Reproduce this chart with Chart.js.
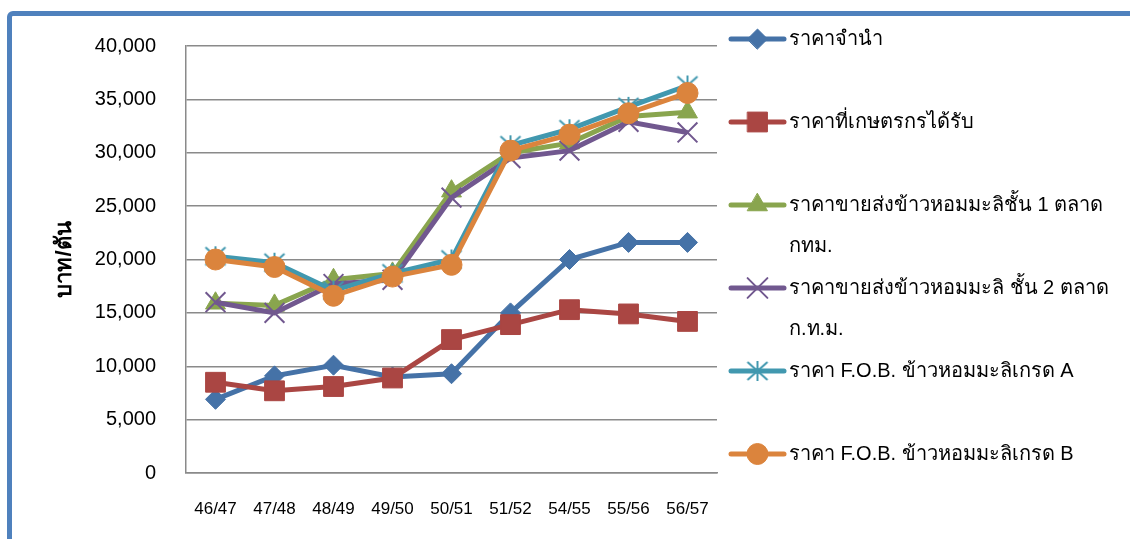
<!DOCTYPE html>
<html>
<head>
<meta charset="utf-8">
<script src="https://cdn.jsdelivr.net/npm/chart.js@4.4.1/dist/chart.umd.min.js"></script>
<style>
  html, body { margin: 0; padding: 0; background: #ffffff; overflow: hidden; }
  #wrap { position: relative; width: 1130px; height: 539px; overflow: hidden; }
  #frame {
    position: absolute; left: 7px; top: 11px; width: 1200px; height: 600px;
    border: 5px solid #4f81bd; border-radius: 6px; box-sizing: border-box;
  }
  #c { position: absolute; left: 0; top: 0; }
</style>
</head>
<body>
<div id="wrap">
  <div id="frame"></div>
  <canvas id="c" width="1130" height="539"></canvas>
</div>
<script>
// Crop years (Thai calendar, abbreviated)
const seasons = ['46/47', '47/48', '48/49', '49/50', '50/51', '51/52', '54/55', '55/56', '56/57'];

// Prices, baht per tonne
const pledgePrice     = [6900, 9100, 10100, 9000, 9300, 15000, 20000, 21600, 21600];
const farmgatePrice   = [8500, 7700, 8100, 8900, 12500, 13900, 15300, 14900, 14200];
const wholesaleGrade1 = [15900, 15700, 18100, 18700, 26400, 30000, 30900, 33400, 33800];
const wholesaleGrade2 = [16000, 15000, 17700, 18100, 25800, 29500, 30200, 32900, 31900];
const fobGradeA       = [20300, 19700, 17100, 18700, 20000, 30700, 32200, 34300, 36300];
const fobGradeB       = [20000, 19300, 16600, 18400, 19500, 30200, 31700, 33700, 35600];

// Series names (legend text, already split into display lines)
const seriesNames = [
  ['ราคาจำนำ'],
  ['ราคาที่เกษตรกรได้รับ'],
  ['ราคาขายส่งข้าวหอมมะลิชั้น 1 ตลาด', 'กทม.'],
  ['ราคาขายส่งข้าวหอมมะลิ ชั้น 2 ตลาด', 'ก.ท.ม.'],
  ['ราคา F.O.B. ข้าวหอมมะลิเกรด A'],
  ['ราคา F.O.B. ข้าวหอมมะลิเกรด B']
];

const yTicks = { min: 0, max: 40000, step: 5000 };
const yTitle = 'บาท/ตัน';

const COLORS = ['#4572a7', '#aa4643', '#89a54e', '#71588f', '#4198af', '#db843d'];

// Six-armed asterisk marker
function asteriskMarker(color) {
  const c = document.createElement('canvas');
  c.width = 24; c.height = 22;
  const g = c.getContext('2d');
  g.strokeStyle = color; g.lineWidth = 2;
  g.beginPath();
  g.moveTo(2, 2); g.lineTo(22, 20);
  g.moveTo(22, 2); g.lineTo(2, 20);
  g.moveTo(12, 1); g.lineTo(12, 21);
  g.stroke();
  return c;
}

function series(i, data, style, radius, filled) {
  return {
    label: seriesNames[i].join(' '),
    legendLines: seriesNames[i],
    data: data,
    borderColor: COLORS[i],
    backgroundColor: COLORS[i],
    borderWidth: 5,
    tension: 0,
    pointStyle: style,
    pointRadius: radius,
    pointHoverRadius: radius,
    pointBackgroundColor: COLORS[i],
    pointBorderColor: COLORS[i],
    pointBorderWidth: filled ? 1 : 2,
    order: 5 - i
  };
}

const FONT = "'Liberation Sans', Arial, sans-serif";

// Legend drawn beside the plot, one item every 83px
const sideLegend = {
  id: 'sideLegend',
  afterDraw(chart, args, opts) {
    const ctx = chart.ctx;
    chart.data.datasets.forEach((ds, i) => {
      const y = opts.top + i * opts.rowGap;
      ctx.save();
      ctx.strokeStyle = ds.borderColor;
      ctx.lineWidth = ds.borderWidth;
      ctx.lineCap = 'round';
      ctx.beginPath();
      ctx.moveTo(opts.x0, y);
      ctx.lineTo(opts.x1, y);
      ctx.stroke();
      ctx.fillStyle = ds.pointBackgroundColor;
      ctx.strokeStyle = ds.pointBorderColor;
      ctx.lineWidth = ds.pointBorderWidth;
      Chart.helpers.drawPoint(ctx, {
        pointStyle: ds.pointStyle,
        radius: ds.pointRadius,
        rotation: 0,
        borderWidth: ds.pointBorderWidth
      }, (opts.x0 + opts.x1) / 2, y);
      ctx.fillStyle = '#000000';
      ctx.font = opts.font;
      ctx.textBaseline = 'middle';
      ctx.textAlign = 'left';
      ds.legendLines.forEach((line, k) => {
        ctx.fillText(line, opts.textX, y + k * opts.lineGap);
      });
      ctx.restore();
    });
  }
};

const datasets = [
  series(0, pledgePrice, 'rectRot', 10, true),
  series(1, farmgatePrice, 'rect', 14, true),
  series(2, wholesaleGrade1, 'triangle', 11.5, true),
  series(3, wholesaleGrade2, 'crossRot', 14, false),
  series(4, fobGradeA, asteriskMarker(COLORS[4]), 11, false),
  series(5, fobGradeB, 'circle', 10.5, true)
];

new Chart(document.getElementById('c'), {
  type: 'line',
  data: { labels: seasons, datasets: datasets },
  plugins: [sideLegend],
  options: {
    responsive: false,
    animation: false,
    events: [],
    layout: { padding: { left: 0, top: 46, right: 413, bottom: 0 } },
    plugins: {
      legend: { display: false },
      tooltip: { enabled: false },
      sideLegend: {
        x0: 731, x1: 784, textX: 789, top: 39, rowGap: 83, lineGap: 41,
        font: "20px 'Liberation Sans', Arial, sans-serif"
      }
    },
    scales: {
      x: {
        type: 'category',
        offset: true,
        grid: { display: true, drawOnChartArea: false, drawTicks: false },
        border: { display: true, color: '#8a8a8a', width: 1.5 },
        ticks: {
          color: '#000000', padding: 26, maxRotation: 0, autoSkip: false,
          font: { family: FONT, size: 17 }
        },
        afterFit(scale) { scale.height = 66; }
      },
      y: {
        min: yTicks.min, max: yTicks.max,
        grid: { color: '#8a8a8a', lineWidth: 1.5, drawTicks: false },
        border: { display: true, color: '#8a8a8a', width: 1.5 },
        ticks: {
          stepSize: yTicks.step, color: '#000000', padding: 30,
          font: { family: FONT, size: 20 },
          callback: v => v.toLocaleString('en-US')
        },
        title: {
          display: true, text: yTitle, color: '#000000',
          font: { family: FONT, size: 22, weight: 'bold' },
          padding: { top: 52, bottom: 0 }
        },
        afterFit(scale) { scale.width = 186; }
      }
    }
  }
});
</script>
</body>
</html>
